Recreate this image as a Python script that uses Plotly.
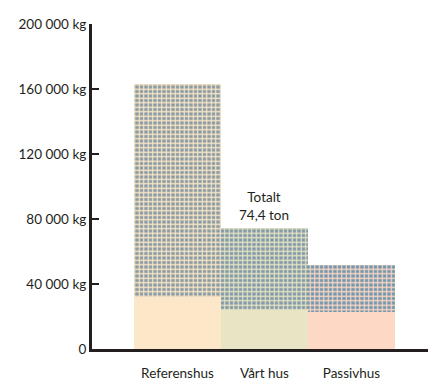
import plotly.graph_objects as go

# Material weight per house type
categories = ["Referenshus", "Vårt hus", "Passivhus"]
base_kg = [32000, 24000, 23000]          # lower, solid segment
total_kg = [163000, 74400, 52000]        # full bar height
y_ticks = [0, 40000, 80000, 120000, 160000, 200000]
y_tick_labels = ["0", "40 000 kg", "80 000 kg", "120 000 kg", "160 000 kg", "200 000 kg"]

top_kg = [t - b for t, b in zip(total_kg, base_kg)]
xpos = list(range(len(categories)))

base_colors = ["#fce8c9", "#e9e4c4", "#fdd8c4"]
check_colors = ["#8a9ba3", "#819aa8", "#7497ad"]

ink = "#231f20"
font_family = "Lato, 'Open Sans', sans-serif"

fig = go.Figure()
fig.add_trace(go.Bar(
    x=xpos, y=base_kg, width=1,
    marker=dict(color=base_colors, line=dict(width=0)),
    hoverinfo="skip",
))
# checked upper segment, one trace per bar so each gets its own pair of colours
for i in xpos:
    fig.add_trace(go.Bar(
        x=[i], y=[top_kg[i]], base=[base_kg[i]], width=1,
        marker=dict(
            color=check_colors[i],
            line=dict(width=0),
            pattern=dict(shape="+", fgcolor=base_colors[i], bgcolor=check_colors[i],
                         size=4.5, solidity=0.45, fillmode="replace"),
        ),
        hoverinfo="skip",
    ))

total_text = f"{total_kg[1]/1000:.1f}".replace(".", ",")
fig.add_annotation(
    x=1, y=total_kg[1], text=f"Totalt<br>{total_text} ton",
    showarrow=False, yanchor="bottom", yshift=3,
    font=dict(family=font_family, size=13.5, color=ink),
)

fig.update_layout(
    width=428, height=380,
    margin=dict(l=92, r=0, t=24, b=31),
    barmode="overlay", bargap=0,
    showlegend=False,
    plot_bgcolor="white", paper_bgcolor="white",
    font=dict(family=font_family, size=13.5, color=ink),
    xaxis=dict(
        range=[-0.983, 2.88], tickvals=xpos, ticktext=categories,
        showline=True, linewidth=3, linecolor=ink, ticks="",
        showgrid=False, zeroline=False, fixedrange=True,
        ticklabelstandoff=10,
    ),
    yaxis=dict(
        range=[0, 200000], tickvals=y_ticks, ticktext=y_tick_labels,
        showline=True, linewidth=3, linecolor=ink,
        ticks="inside", ticklen=7, tickwidth=2, tickcolor=ink,
        showgrid=False, zeroline=False, fixedrange=True,
        ticklabelstandoff=0,
    ),
)

fig.write_html("out.html")
